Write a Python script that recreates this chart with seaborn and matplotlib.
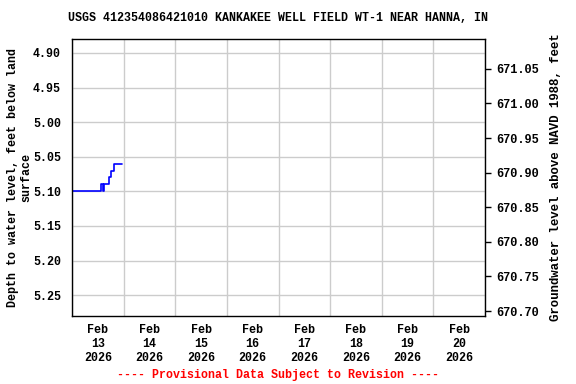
import numpy as np
import pandas as pd
import matplotlib
matplotlib.use("Agg")
import matplotlib.pyplot as plt
import matplotlib.dates as mdates
import seaborn as sns

# data: time stamps and depth to water (ft below land surface)
times = ["2026-02-13 00:00", "2026-02-13 13:15", "2026-02-13 14:30", "2026-02-13 14:45",
         "2026-02-13 17:00", "2026-02-13 18:00", "2026-02-13 19:30", "2026-02-13 23:15"]
depth = [5.10, 5.09, 5.10, 5.09, 5.08, 5.07, 5.06, 5.06]
datum = 675.973  # land surface elevation, NAVD 1988

left_ticks = [4.90, 4.95, 5.00, 5.05, 5.10, 5.15, 5.20, 5.25]
right_ticks = [671.05, 671.00, 670.95, 670.90, 670.85, 670.80, 670.75, 670.70]
day_labels = ["Feb\n13\n2026", "Feb\n14\n2026", "Feb\n15\n2026", "Feb\n16\n2026",
              "Feb\n17\n2026", "Feb\n18\n2026", "Feb\n19\n2026", "Feb\n20\n2026"]

title = "USGS 412354086421010 KANKAKEE WELL FIELD WT-1 NEAR HANNA, IN"
caption = "---- Provisional Data Subject to Revision ----"

sns.set_theme(style="white")
plt.rcParams["font.family"] = ["Liberation Mono", "DejaVu Sans Mono"]
plt.rcParams["font.weight"] = "bold"
for k in ["text.color", "axes.labelcolor", "xtick.color", "ytick.color"]:
    plt.rcParams[k] = "black"
FS = 8.4

df = pd.DataFrame({"time": pd.to_datetime(times), "depth": depth})

fig = plt.figure(figsize=(5.76, 3.84), dpi=100)
ax = fig.add_axes([72/576, 1 - 316/384, (485-72)/576, (316-39.3)/384])

sns.lineplot(data=df, x="time", y="depth", ax=ax, color="#0000ff", lw=1.2,
             drawstyle="steps-post", legend=False)

start = pd.Timestamp("2026-02-13")
end = pd.Timestamp("2026-02-21")
ax.set_xlim(start, end)
ax.set_ylim(5.2802, 4.8803)

# gridlines at midnight, labels at noon
mid = pd.date_range(start, end, freq="D")
ax.set_xticks(mid)
ax.set_xticklabels([])
ax.set_xticks(pd.date_range("2026-02-13 12:00", periods=8, freq="D"), minor=True)
ax.set_xticklabels(day_labels, minor=True, fontsize=FS, fontweight="bold")
ax.tick_params(axis="x", which="both", length=0, pad=6)

ax.set_yticks(left_ticks)
ax.set_yticklabels([f"{v:.2f}" for v in left_ticks], fontsize=FS, fontweight="bold")
ax.tick_params(axis="y", length=0, pad=8)

ax.grid(True, which="major", color="#cccccc", lw=1)
ax.set_axisbelow(True)
for s in ax.spines.values():
    s.set_color("black")
    s.set_linewidth(1)

ax.set_xlabel("")
ax.set_ylabel("Depth to water level, feet below land\nsurface", fontsize=FS,
              fontweight="bold", linespacing=1.1)
ax.yaxis.set_label_coords(-0.097, 0.5)

ax2 = ax.twinx()
lo, hi = ax.get_ylim()
ax2.set_ylim(datum - lo, datum - hi)
ax2.set_yticks(right_ticks)
ax2.set_yticklabels([f"{v:.2f}" for v in right_ticks], fontsize=8.6, fontweight="bold")
ax2.tick_params(axis="y", length=4, width=1, color="black", pad=4)
ax2.grid(False)
for s in ax2.spines.values():
    s.set_visible(False)
ax2.set_ylabel("Groundwater level above NAVD 1988, feet", fontsize=8.9,
               fontweight="bold", labelpad=8)

fig.text(278/576, 1 - 18/384, title, ha="center", va="center", fontsize=FS,
         fontweight="bold")
fig.text(278/576, 1 - 375/384, caption, ha="center", va="center", fontsize=FS,
         fontweight="bold", color="red")

fig.savefig("out.png", dpi=100)
